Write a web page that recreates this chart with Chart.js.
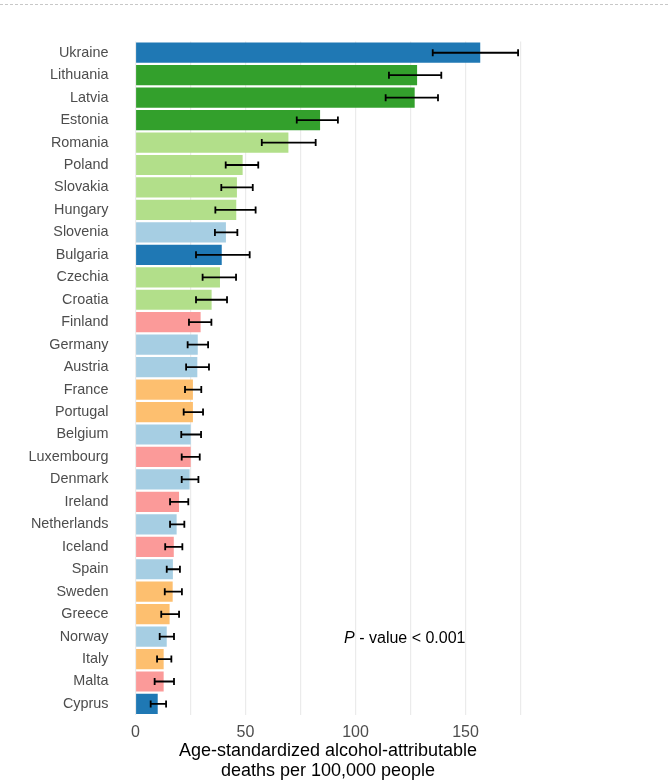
<!DOCTYPE html>
<html>
<head>
<meta charset="utf-8">
<script src="https://cdn.jsdelivr.net/npm/chart.js@4"></script>
<style>
  html, body { margin: 0; padding: 0; background: #fff; }
  #wrap { position: relative; width: 668px; height: 782px; }
  #dash { position: absolute; left: 0; top: 4px; width: 668px; border-top: 1px dashed #c8c8c8; }
</style>
</head>
<body>
<div id="wrap">
  <div id="dash"></div>
  <canvas id="myChart" width="668" height="782"></canvas>
</div>
<script>
var countries = ['Ukraine', 'Lithuania', 'Latvia', 'Estonia', 'Romania', 'Poland', 'Slovakia', 'Hungary',
  'Slovenia', 'Bulgaria', 'Czechia', 'Croatia', 'Finland', 'Germany', 'Austria', 'France', 'Portugal',
  'Belgium', 'Luxembourg', 'Denmark', 'Ireland', 'Netherlands', 'Iceland', 'Spain', 'Sweden', 'Greece',
  'Norway', 'Italy', 'Malta', 'Cyprus'];
var deaths = [156.7, 128.0, 126.9, 83.9, 69.5, 48.7, 46.1, 45.8, 41.1, 39.2, 38.4, 34.6, 29.6, 28.3, 28.1,
  26.1, 26.1, 25.1, 25.1, 24.6, 19.8, 18.7, 17.4, 17.0, 16.9, 15.5, 14.2, 12.8, 12.8, 10.1];
var lower = [135.1, 115.2, 113.7, 73.3, 57.4, 41.0, 39.0, 36.3, 36.1, 27.5, 30.5, 27.5, 24.3, 23.7, 23.0,
  22.5, 21.9, 20.8, 21.0, 21.0, 15.7, 15.7, 13.5, 14.2, 13.3, 11.7, 11.0, 9.8, 8.7, 6.9];
var upper = [173.9, 139.0, 137.5, 92.0, 81.9, 55.8, 53.3, 54.6, 46.3, 51.9, 45.7, 41.6, 34.5, 33.0, 33.4,
  29.9, 30.7, 29.8, 29.2, 28.6, 24.0, 22.2, 21.3, 20.2, 21.1, 19.8, 17.5, 16.3, 17.5, 13.9];
var groups = [1, 2, 2, 2, 3, 3, 3, 3, 4, 1, 3, 3, 5, 4, 4, 6, 6, 4, 5, 4, 5, 4, 5, 4, 6, 6, 4, 6, 5, 1];
var xTicks = [0, 50, 100, 150];

var groupColors = { 1: '#1f78b4', 2: '#33a02c', 3: '#b2df8a', 4: '#a6cee3', 5: '#fb9a99', 6: '#fdbf6f' };
var FONT = '"Liberation Sans", Arial, sans-serif';

var errorBars = {
  id: 'errorBars',
  afterDatasetsDraw: function (chart) {
    var c = chart.ctx, x = chart.scales.x, y = chart.scales.y;
    c.save();
    c.strokeStyle = '#000';
    c.lineWidth = 1.8;
    for (var i = 0; i < countries.length; i++) {
      var yy = y.getPixelForValue(i);
      var x1 = x.getPixelForValue(lower[i]), x2 = x.getPixelForValue(upper[i]);
      c.beginPath();
      c.moveTo(x1, yy); c.lineTo(x2, yy);
      c.moveTo(x1, yy - 3.5); c.lineTo(x1, yy + 3.5);
      c.moveTo(x2, yy - 3.5); c.lineTo(x2, yy + 3.5);
      c.stroke();
    }
    // p-value note
    var px = x.getPixelForValue(150), py = y.getPixelForValue(countries.indexOf('Norway')) + 2;
    c.fillStyle = '#000';
    c.textBaseline = 'middle';
    c.textAlign = 'left';
    c.font = '16px ' + FONT;
    var rest = ' - value < 0.001';
    var wRest = c.measureText(rest).width;
    c.fillText(rest, px - wRest, py);
    c.font = 'italic 16px ' + FONT;
    var wP = c.measureText('P').width;
    c.fillText('P', px - wRest - wP, py);
    c.restore();
  }
};

var ctx = document.getElementById('myChart').getContext('2d');
var myChart = new Chart(ctx, {
  type: 'bar',
  data: {
    labels: countries,
    datasets: [{
      data: deaths,
      backgroundColor: groups.map(function (g) { return groupColors[g]; }),
      barPercentage: 0.9,
      categoryPercentage: 1.0
    }]
  },
  options: {
    indexAxis: 'y',
    responsive: false,
    animation: false,
    layout: { padding: { top: 41.5, right: 147.5, bottom: 0, left: 0 } },
    plugins: { legend: { display: false }, tooltip: { enabled: false } },
    scales: {
      x: {
        min: 0,
        max: 175,
        border: { display: false },
        grid: { color: '#ebebeb', lineWidth: 1.2, drawTicks: false },
        ticks: {
          stepSize: 25,
          padding: 7.5,
          color: '#4d4d4d',
          font: { family: FONT, size: 16 },
          maxRotation: 0,
          autoSkip: false,
          callback: function (v) { return xTicks.indexOf(v) >= 0 ? String(v) : ''; }
        },
        title: {
          display: true,
          text: ['Age-standardized alcohol-attributable', 'deaths per 100,000 people'],
          color: '#000',
          font: { family: FONT, size: 18, lineHeight: 20 / 18 },
          padding: { top: 0, bottom: 1 }
        },
        afterFit: function (s) { s.height = 66.8; }
      },
      y: {
        border: { display: false },
        grid: { display: false, drawTicks: false },
        ticks: {
          padding: 27,
          color: '#4d4d4d',
          autoSkip: false,
          font: { family: FONT, size: 14.4 }
        },
        afterFit: function (s) { s.width = 135.5; }
      }
    }
  },
  plugins: [errorBars]
});
</script>
</body>
</html>
